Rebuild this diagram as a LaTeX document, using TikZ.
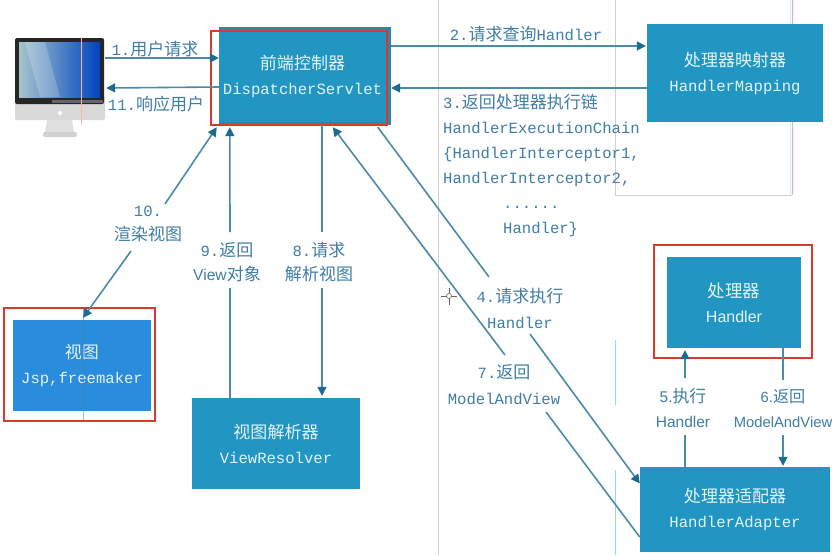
\documentclass[tikz,border=0pt]{standalone}
\usepackage{fontspec}
\setmainfont{Liberation Mono}
\setsansfont{Liberation Sans}
\newfontfamily\cjk[Scale=1.09]{Noto Sans CJK SC}
\usetikzlibrary{arrows.meta,calc}
\newcommand{\zh}[1]{{\cjk #1}}
\definecolor{boxteal}{HTML}{2196C2}
\definecolor{boxshade}{HTML}{2F86A6}
\definecolor{boxblue}{HTML}{2A8CDC}
\definecolor{linecol}{HTML}{4A8CA6}
\definecolor{tipcol}{HTML}{1D6C90}
\definecolor{labelcol}{HTML}{3F7EA6}
\definecolor{boxtext}{HTML}{E4F3F8}
\definecolor{redframe}{HTML}{D93A2B}
\tikzset{
  x=1pt,y=-1pt,
  procbox/.style={fill=boxteal,draw=none,inner sep=0pt,text=boxtext,align=center,
    font=\fontsize{15.6}{25}\selectfont},
  redbox/.style={draw=redframe,line width=1.9pt,fill=none},
  conn/.style={draw=linecol,line width=1.6pt},
  arr/.style={conn,-{Triangle[length=9pt,width=9pt,color=tipcol]}},
  rarr/.style={conn,{Triangle[length=9pt,width=9pt,color=tipcol]}-},
  lab/.style={text=labelcol,inner sep=0pt,align=center,font=\fontsize{15.6}{25}\selectfont},
  faintg/.style={draw=black!18,line width=0.7pt},
}
\begin{document}
\begin{tikzpicture}
\useasboundingbox (0,0) rectangle (832,555);
\fill[white] (0,0) rectangle (832,555);
% faint background artefacts
\draw[faintg] (615,0) -- (615,195) -- (792,195);
\draw[draw=red!35,line width=0.7pt] (792,0) -- (792,195);
\draw[draw=cyan!20,line width=0.8pt] (790,0) -- (790,195);
\draw[faintg] (438,0) -- (438,555);
\draw[draw=cyan!45,line width=0.8pt] (615,340) -- (615,405) (615,470) -- (615,555);
\draw[draw=black!60,line width=0.6pt] (441,296) -- (457,296) (449,288) -- (449,305);
\draw[draw=black!60,fill=white,line width=0.6pt] (449,296) circle (2.5);
% monitor
\node[minimum width=90pt,minimum height=84pt,inner sep=0pt] (pc) at (60,79) {};
\fill[black!15,rounded corners=1.5pt] (15,96) rectangle (105,120);
\fill[black!12] (47,120) -- (72,120) -- (74,132) -- (45,132) -- cycle;
\fill[black!18,rounded corners=2pt] (43,132) rectangle (77,137);
\fill[black!85,rounded corners=2pt] (15,38) rectangle (104,104);
\shade[left color=blue!25!cyan!45!black!35!white,right color=blue!65!cyan!75!black] (19,42) rectangle (100,97);
\fill[white,opacity=.2] (25,42) -- (45,42) -- (60,97) -- (40,97) -- cycle;
\fill[black!60] (52,100) rectangle (103,103);
\fill[white] (60,113) circle (2);
\draw[draw=red!30,line width=0.6pt] (81,38) -- (81,125);
% boxes
\fill[boxshade] (219,27) rectangle (391,125);
\node[procbox,minimum width=167pt,minimum height=91pt] (ds) at (302.5,76.5)
  {\zh{前端控制器}\\DispatcherServlet};
\node[procbox,minimum width=176pt,minimum height=98pt] (hm) at (735,73)
  {\zh{处理器映射器}\\HandlerMapping};
\node[procbox,minimum width=134pt,minimum height=91pt,font=\sffamily\fontsize{16}{25}\selectfont] (hd) at (734,302.5)
  {\zh{处理器}\\Handler};
\node[procbox,minimum width=190pt,minimum height=85pt] (ha) at (735,509.5)
  {\zh{处理器适配器}\\HandlerAdapter};
\node[procbox,fill=boxblue,minimum width=138pt,minimum height=91pt] (vw) at (82,365.5)
  {\zh{视图}\\Jsp,freemaker};
\node[procbox,minimum width=168pt,minimum height=91pt] (vr) at (276,443.5)
  {\zh{视图解析器}\\ViewResolver};
\draw[draw=cyan!60!black,opacity=.5,line width=0.6pt] (83,308) -- (83,421);
% red frames
\node[redbox,inner sep=0pt,minimum width=176pt,minimum height=94pt] (rds) at (299,78) {};
\node[redbox,inner sep=0pt,minimum width=158pt,minimum height=113pt] (rhd) at (733,301.5) {};
\node[redbox,inner sep=0pt,minimum width=151pt,minimum height=113pt] (rvw) at (79.5,364.5) {};
% gap coordinates
\coordinate (g10a) at (165,204);
\coordinate (g10b) at (131,251);
\coordinate (g9a) at (230,232);
\coordinate (g9b) at (230,288);
\coordinate (g8a) at (322,232);
\coordinate (g8b) at (322,288);
\coordinate (g4a) at (489,277);
\coordinate (g4b) at (530,334);
\coordinate (g7a) at (505,355);
\coordinate (g7b) at (546,412);
\coordinate (g5a) at (685,378);
\coordinate (g5b) at (685,435);
\coordinate (g6a) at (783,380);
\coordinate (g6b) at (783,435);
% connectors
\draw[arr] ([yshift=21pt]pc.east) -- ([yshift=18.5pt]ds.west);
\draw[arr] ([yshift=-10.5pt]ds.west) -- ([yshift=-9pt,xshift=1pt]pc.east);
\draw[arr] ([xshift=5pt,yshift=30.5pt]ds.east) -- ([yshift=27pt,xshift=-1pt]hm.west);
\draw[arr] ([yshift=-15pt]hm.west) -- ([xshift=5pt,yshift=-11.5pt]ds.east);
\draw[rarr] ([xshift=-2pt,yshift=-5pt]ds.south west) -- (g10a);
\draw[arr] (g10b) -- ([xshift=1pt,yshift=2pt]vw.north);
\draw[rarr] ([xshift=11pt,yshift=-5pt]ds.south west) -- (g9a);
\draw[conn] (g9b) -- ([xshift=-46pt]vr.north);
\draw[conn] ([xshift=19.5pt,yshift=-3pt]ds.south) -- (g8a);
\draw[arr] (g8b) -- ([xshift=46pt,yshift=2pt]vr.north);
\draw[conn] ([xshift=159pt,yshift=-5pt]ds.south west) -- (g4a);
\draw[arr] (g4b) -- ([yshift=26pt]ha.west);
\draw[rarr] ([xshift=114pt,yshift=-5pt]ds.south west) -- (g7a);
\draw[conn] (g7b) -- ([yshift=-27.5pt]ha.west);
\draw[conn] ([xshift=-50pt]ha.north) -- (g5b);
\draw[arr] (g5a) -- ([xshift=-49pt,yshift=-2pt]hd.south);
\draw[conn] ([xshift=49pt]hd.south) -- (g6a);
\draw[arr] (g6b) -- ([xshift=48pt,yshift=1pt]ha.north);
% labels
\node[lab] (l1) at (155,49) {1.\zh{用户请求}};
\node[lab] (l11) at (156,104) {11.\zh{响应用户}};
\node[lab] (l2) at (526,34) {2.\zh{请求查询}Handler};
\node[lab,align=left,anchor=north west] (l3) at (443,94)
  {3.\zh{返回处理器执行链}\\HandlerExecutionChain\\\{HandlerInterceptor1,\\HandlerInterceptor2,\\\hspace*{60pt}......\\\hspace*{60pt}Handler\}};
\node[lab] (l10) at (148,224) {10.\\[-1pt]\zh{渲染视图}};
\node[lab] (l9) at (227,262) {9.\zh{返回}\\[-1pt]{\sffamily View}\zh{对象}};
\node[lab] (l8) at (319,262) {8.\zh{请求}\\[-1pt]\zh{解析视图}};
\node[lab] (l4) at (520,308) {4.\zh{请求执行}\\[1pt]Handler};
\node[lab] (l7) at (504,385) {7.\zh{返回}\\[1pt]ModelAndView};
\node[lab,font=\sffamily\fontsize{15.5}{25}\selectfont] (l5) at (683,408) {5.\zh{执行}\\Handler};
\node[lab,font=\sffamily\fontsize{14.8}{25}\selectfont] (l6) at (783,408) {6.\zh{返回}\\ModelAndView};
\end{tikzpicture}
\end{document}
